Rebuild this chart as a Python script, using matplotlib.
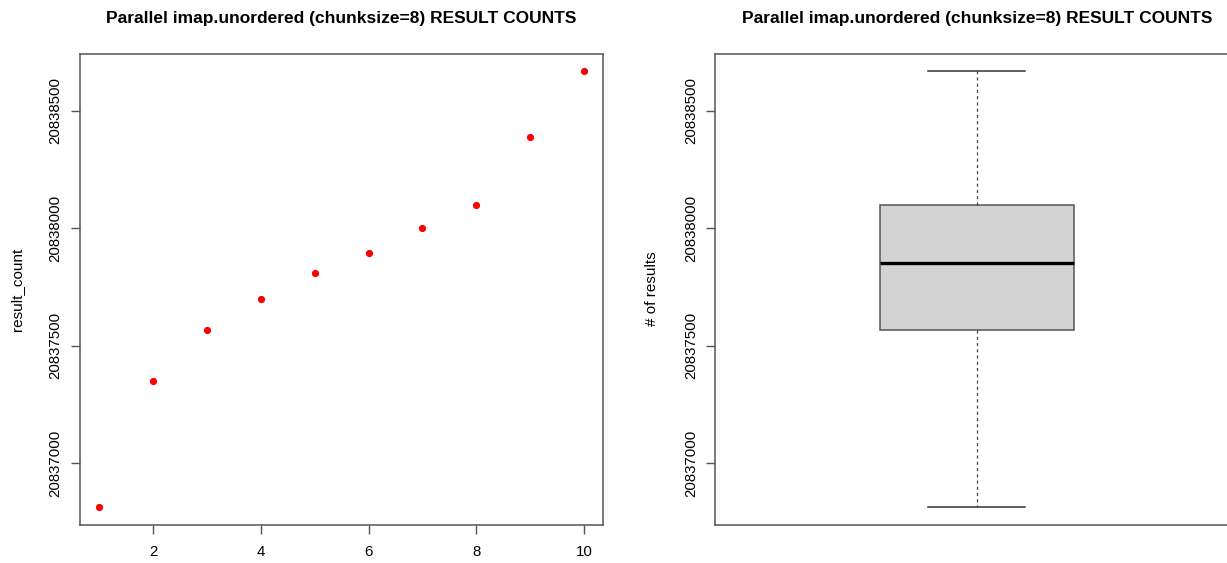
import numpy as np
import matplotlib
matplotlib.use("Agg")
import matplotlib.pyplot as plt

# result counts per run
runs = [1, 2, 3, 4, 5, 6, 7, 8, 9, 10]
result_count = [20836812, 20837351, 20837567, 20837699, 20837808,
                20837894, 20838003, 20838101, 20838389, 20838670]
x_ticks = [2, 4, 6, 8, 10]
y_ticks = [20837000, 20837500, 20838000, 20838500]
title = "Parallel imap.unordered (chunksize=8) RESULT COUNTS"

plt.rcParams['font.family'] = ['Liberation Sans', 'DejaVu Sans']

FRAME = '#555555'


def fivenum(vals):
    # Tukey five number summary, same as R's fivenum / boxplot.stats
    x = np.sort(np.asarray(vals, dtype=float))
    n = len(x)
    n4 = np.floor((n + 3) / 2) / 2
    d = np.array([1, n4, (n + 1) / 2, n + 1 - n4, n])
    return 0.5 * (x[np.floor(d).astype(int) - 1] + x[np.ceil(d).astype(int) - 1])


def r_range(lo, hi):
    ext = (hi - lo) * 0.04
    return lo - ext, hi + ext


def style_axes(ax):
    for sp in ax.spines.values():
        sp.set_color(FRAME)
        sp.set_linewidth(1.1)
    ax.tick_params(axis='both', colors=FRAME, labelcolor='black', length=6.5,
                   width=1.0, labelsize=10.8)
    ax.tick_params(axis='x', pad=8)
    ax.tick_params(axis='y', pad=6)
    ax.set_yticks(y_ticks)
    ax.set_yticklabels([str(v) for v in y_ticks], rotation=90, va='center')
    ax.set_ylim(*r_range(min(result_count), max(result_count)))
    ax.set_title(title, fontsize=12.5, fontweight='bold', pad=22)


fig = plt.figure(figsize=(12.27, 5.63), dpi=100)

# left panel: scatter
ax1 = fig.add_axes([80 / 1227, 38.3 / 563, 523.3 / 1227, 471.2 / 563])
ax1.plot(runs, result_count, 'o', color='red', markersize=5.2, markeredgewidth=0)
ax1.set_xlim(*r_range(min(runs), max(runs)))
ax1.set_xticks(x_ticks)
ax1.set_ylabel("result_count", fontsize=11, labelpad=18)
style_axes(ax1)

# right panel: boxplot
ax2 = fig.add_axes([715.3 / 1227, 38.3 / 563, 523.3 / 1227, 471.2 / 563])
lo, q1, med, q3, hi = fivenum(result_count)
iqr = q3 - q1
data = np.asarray(result_count)
whislo = data[data >= q1 - 1.5 * iqr].min()
whishi = data[data <= q3 + 1.5 * iqr].max()
stats = [dict(med=med, q1=q1, q3=q3, whislo=whislo, whishi=whishi, fliers=[])]
ax2.bxp(stats, positions=[1], widths=0.4, capwidths=0.2, patch_artist=True,
        showfliers=False,
        boxprops=dict(facecolor='#d3d3d3', edgecolor=FRAME, linewidth=1.1),
        medianprops=dict(color='black', linewidth=2.4, solid_capstyle='butt'),
        whiskerprops=dict(color='#444444', linewidth=0.9, linestyle=(0, (2.5, 2.5))),
        capprops=dict(color='#333333', linewidth=1.1))
ax2.set_xlim(0.46, 1.54)
ax2.set_xticks([])
ax2.set_ylabel("# of results", fontsize=11, labelpad=18)
style_axes(ax2)

fig.savefig("out.png", dpi=100)
